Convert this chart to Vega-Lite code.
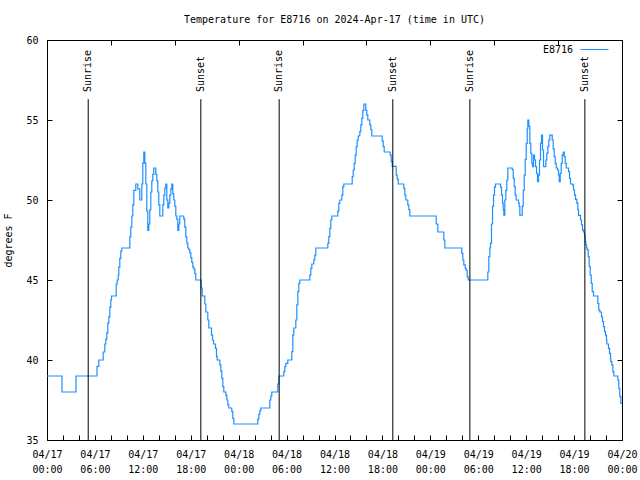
{
  "$schema": "https://vega.github.io/schema/vega-lite/v6.json",
  "width": 575,
  "height": 400,
  "autosize": {"type": "none"},
  "padding": {"left": 47, "top": 40, "right": 18, "bottom": 40},
  "background": "white",
  "title": {"text": "Temperature for E8716 on 2024-Apr-17 (time in UTC)", "font": "DejaVu Sans Mono", "fontSize": 10, "fontWeight": "normal", "color": "black", "anchor": "middle", "offset": 10},
  "config": {
    "view": {"stroke": "black", "strokeWidth": 1},
    "axis": {"domain": false, "grid": false, "tickColor": "black", "tickSize": -5, "tickWidth": 1, "labelFont": "DejaVu Sans Mono", "labelFontSize": 10, "labelColor": "black", "titleFont": "DejaVu Sans Mono", "titleFontSize": 10, "titleFontWeight": "normal", "titleColor": "black"},
    "legend": {"orient": "none", "legendX": 533, "legendY": -5, "symbolType": "stroke", "symbolSize": 784, "symbolStrokeWidth": 1, "labelFont": "DejaVu Sans Mono", "labelFontSize": 10, "labelColor": "black", "labelAlign": "right", "labelOffset": -36, "padding": 0}
  },
  "layer": [
    {
      "data": {"values": [
        {"t":0,"v":39},{"t":1.878,"v":38},{"t":3.631,"v":39},{"t":6.261,"v":39.6},{"t":6.486,"v":40},{"t":7.037,"v":40.5},{"t":7.238,"v":41},{"t":7.363,"v":41.3},{"t":7.488,"v":41.7},{"t":7.613,"v":42.3},{"t":7.739,"v":42.7},{"t":7.864,"v":43.3},{"t":7.989,"v":43.75},{"t":8.077,"v":44},{"t":8.665,"v":44.75},{"t":8.79,"v":45},{"t":8.916,"v":45.3},{"t":8.991,"v":45.8},{"t":9.116,"v":46.35},{"t":9.241,"v":46.8},{"t":9.366,"v":47},{"t":10.368,"v":47.7},{"t":10.493,"v":48.3},{"t":10.619,"v":49},{"t":10.744,"v":49.7},{"t":10.869,"v":50.6},{"t":11.12,"v":51},{"t":11.37,"v":50.7},{"t":11.62,"v":50},{"t":11.871,"v":51},{"t":11.996,"v":52.3},{"t":12.121,"v":53},{"t":12.247,"v":52.3},{"t":12.372,"v":51},{"t":12.497,"v":49.3},{"t":12.622,"v":48.1},{"t":12.747,"v":48.5},{"t":12.873,"v":49.4},{"t":12.998,"v":50.5},{"t":13.123,"v":51.2},{"t":13.248,"v":51.6},{"t":13.373,"v":52},{"t":13.624,"v":51.6},{"t":13.749,"v":51.2},{"t":13.874,"v":50.5},{"t":14.0,"v":49.7},{"t":14.125,"v":49},{"t":14.5,"v":49.7},{"t":14.626,"v":50.3},{"t":14.751,"v":50.75},{"t":14.876,"v":51},{"t":15.001,"v":50},{"t":15.127,"v":49.5},{"t":15.252,"v":49.8},{"t":15.377,"v":50.3},{"t":15.502,"v":50.7},{"t":15.627,"v":51},{"t":15.753,"v":50.4},{"t":15.878,"v":50},{"t":16.003,"v":49.6},{"t":16.128,"v":49},{"t":16.254,"v":48.8},{"t":16.379,"v":48.1},{"t":16.504,"v":48.5},{"t":16.629,"v":49},{"t":17.13,"v":48.8},{"t":17.255,"v":48.3},{"t":17.38,"v":47.7},{"t":17.506,"v":47.3},{"t":17.631,"v":47},{"t":17.756,"v":46.9},{"t":17.881,"v":46.7},{"t":18.007,"v":46.4},{"t":18.132,"v":46.1},{"t":18.257,"v":45.8},{"t":18.382,"v":45.7},{"t":18.507,"v":45.4},{"t":18.633,"v":45},{"t":19.309,"v":44.5},{"t":19.434,"v":44},{"t":19.76,"v":43.5},{"t":19.885,"v":43},{"t":20.135,"v":42.5},{"t":20.261,"v":42},{"t":20.599,"v":41.56},{"t":20.724,"v":41.25},{"t":20.849,"v":41},{"t":21.1,"v":40.73},{"t":21.225,"v":40.21},{"t":21.312,"v":40},{"t":21.638,"v":39.7},{"t":21.763,"v":39.3},{"t":21.888,"v":38.85},{"t":22.014,"v":38.33},{"t":22.139,"v":38},{"t":22.389,"v":37.8},{"t":22.515,"v":37.5},{"t":22.64,"v":37.2},{"t":22.765,"v":37},{"t":23.141,"v":36.77},{"t":23.266,"v":36.35},{"t":23.391,"v":36},{"t":26.396,"v":36.3},{"t":26.522,"v":36.6},{"t":26.647,"v":36.83},{"t":26.772,"v":37},{"t":27.899,"v":37.5},{"t":28.024,"v":37.75},{"t":28.149,"v":38},{"t":28.901,"v":38.5},{"t":29.026,"v":39},{"t":29.652,"v":39.27},{"t":29.777,"v":39.58},{"t":29.903,"v":39.79},{"t":30.153,"v":40},{"t":30.654,"v":40.52},{"t":30.779,"v":41.56},{"t":30.904,"v":42},{"t":31.155,"v":42.5},{"t":31.28,"v":43.44},{"t":31.405,"v":44.27},{"t":31.53,"v":44.79},{"t":31.656,"v":45},{"t":32.908,"v":45.31},{"t":33.033,"v":45.73},{"t":33.158,"v":46},{"t":33.409,"v":46.25},{"t":33.534,"v":46.56},{"t":33.659,"v":47},{"t":35.162,"v":47.29},{"t":35.287,"v":47.71},{"t":35.412,"v":48.23},{"t":35.537,"v":48.75},{"t":35.663,"v":49},{"t":36.414,"v":49.31},{"t":36.539,"v":49.79},{"t":36.665,"v":50},{"t":36.915,"v":50.31},{"t":37.04,"v":50.83},{"t":37.166,"v":51},{"t":38.217,"v":51.46},{"t":38.343,"v":51.875},{"t":38.468,"v":52.29},{"t":38.593,"v":52.81},{"t":38.718,"v":53.33},{"t":38.843,"v":53.75},{"t":38.969,"v":54},{"t":39.169,"v":54.27},{"t":39.294,"v":54.69},{"t":39.419,"v":55.1},{"t":39.545,"v":55.6},{"t":39.67,"v":56},{"t":39.92,"v":55.6},{"t":40.045,"v":55.3},{"t":40.171,"v":55},{"t":40.421,"v":54.7},{"t":40.546,"v":54.4},{"t":40.672,"v":54},{"t":41.974,"v":53.7},{"t":42.099,"v":53.33},{"t":42.224,"v":53},{"t":42.976,"v":52.8},{"t":43.101,"v":52.4},{"t":43.226,"v":52.1},{"t":43.727,"v":51.56},{"t":43.852,"v":51.3},{"t":43.978,"v":51},{"t":44.679,"v":50.73},{"t":44.804,"v":50.31},{"t":44.929,"v":50},{"t":45.18,"v":49.7},{"t":45.305,"v":49.4},{"t":45.43,"v":49},{"t":48.736,"v":48.5},{"t":48.936,"v":48},{"t":49.687,"v":47.5},{"t":49.813,"v":47},{"t":51.941,"v":46.67},{"t":52.066,"v":46.25},{"t":52.192,"v":45.94},{"t":52.367,"v":45.73},{"t":52.492,"v":45.6},{"t":52.617,"v":45.2},{"t":52.742,"v":45},{"t":55.197,"v":45.5},{"t":55.322,"v":46.46},{"t":55.447,"v":47},{"t":55.535,"v":47.3},{"t":55.66,"v":48.5},{"t":55.786,"v":49.6},{"t":55.911,"v":50.3},{"t":56.036,"v":50.8},{"t":56.161,"v":51},{"t":56.787,"v":50.8},{"t":56.913,"v":50.3},{"t":57.038,"v":49.8},{"t":57.126,"v":49.4},{"t":57.201,"v":49.06},{"t":57.326,"v":50},{"t":57.451,"v":50.6},{"t":57.576,"v":51.25},{"t":57.702,"v":52},{"t":58.253,"v":51.9},{"t":58.378,"v":51.35},{"t":58.503,"v":50.83},{"t":58.628,"v":50.31},{"t":58.754,"v":50},{"t":59.042,"v":49.8},{"t":59.129,"v":49.6},{"t":59.205,"v":49.06},{"t":59.505,"v":49.6},{"t":59.63,"v":50.6},{"t":59.756,"v":51.56},{"t":59.881,"v":52.54},{"t":60.006,"v":53.54},{"t":60.131,"v":54.48},{"t":60.207,"v":55},{"t":60.332,"v":54.6},{"t":60.457,"v":53.54},{"t":60.582,"v":52.92},{"t":60.707,"v":52.29},{"t":60.795,"v":52.08},{"t":60.92,"v":52.81},{"t":61.046,"v":52.5},{"t":61.171,"v":52.08},{"t":61.296,"v":51.67},{"t":61.421,"v":51.15},{"t":61.546,"v":51.56},{"t":61.672,"v":52.5},{"t":61.797,"v":53.54},{"t":61.922,"v":54.06},{"t":62.047,"v":53.125},{"t":62.173,"v":52.08},{"t":62.461,"v":52.5},{"t":62.586,"v":52.92},{"t":62.711,"v":53.33},{"t":62.836,"v":53.75},{"t":62.961,"v":54.06},{"t":63.262,"v":53.75},{"t":63.387,"v":53.2},{"t":63.512,"v":52.71},{"t":63.638,"v":52.29},{"t":63.763,"v":52},{"t":63.926,"v":51.875},{"t":64.051,"v":51.56},{"t":64.139,"v":51.15},{"t":64.264,"v":51.67},{"t":64.389,"v":52.29},{"t":64.514,"v":52.81},{"t":64.64,"v":53},{"t":64.765,"v":52.71},{"t":64.89,"v":52.29},{"t":65.015,"v":52},{"t":65.303,"v":51.77},{"t":65.428,"v":51.35},{"t":65.553,"v":51},{"t":65.804,"v":50.94},{"t":65.929,"v":50.625},{"t":66.054,"v":50.31},{"t":66.179,"v":50.04},{"t":66.342,"v":49.8},{"t":66.467,"v":49.4},{"t":66.555,"v":49.04},{"t":66.805,"v":48.75},{"t":66.93,"v":48.44},{"t":67.055,"v":48.12},{"t":67.181,"v":48},{"t":67.306,"v":47.8},{"t":67.394,"v":47.4},{"t":67.469,"v":47.2},{"t":67.556,"v":47},{"t":67.644,"v":46.9},{"t":67.769,"v":46.46},{"t":67.894,"v":45.83},{"t":68.02,"v":45.31},{"t":68.145,"v":44.79},{"t":68.27,"v":44.27},{"t":68.433,"v":44},{"t":68.971,"v":43.54},{"t":69.096,"v":43.12},{"t":69.222,"v":43},{"t":69.434,"v":42.7},{"t":69.56,"v":42.4},{"t":69.685,"v":42.08},{"t":69.81,"v":41.77},{"t":69.935,"v":41.56},{"t":70.061,"v":41.25},{"t":70.098,"v":41},{"t":70.311,"v":40.73},{"t":70.436,"v":40.42},{"t":70.561,"v":40.1},{"t":70.599,"v":39.9},{"t":70.724,"v":39.69},{"t":70.849,"v":39.27},{"t":70.974,"v":39},{"t":71.475,"v":38.75},{"t":71.6,"v":38.23},{"t":71.726,"v":37.71},{"t":71.851,"v":37.29},{"t":72,"v":37.29}
      ]},
      "mark": {"type": "line", "interpolate": "step-after", "strokeWidth": 1.2},
      "encoding": {
        "x": {"field": "t", "type": "quantitative", "scale": {"domain": [0, 72], "nice": false, "zero": false},
          "axis": {"orient": "bottom", "title": null, "values": [0,2,4,6,8,10,12,14,16,18,20,22,24,26,28,30,32,34,36,38,40,42,44,46,48,50,52,54,56,58,60,62,64,66,68,70,72],
            "labelExpr": "datum.value % 6 == 0 ? ['04/' + (17 + floor(datum.value / 24)), ((datum.value % 24) < 10 ? '0' : '') + (datum.value % 24) + ':00'] : ''",
            "labelPadding": 14, "labelLineHeight": 15, "labelBaseline": "top", "labelFlush": false, "labelOverlap": false}},
        "y": {"field": "v", "type": "quantitative", "scale": {"domain": [35, 60], "nice": false, "zero": false},
          "axis": {"orient": "left", "title": "degrees F", "values": [35, 40, 45, 50, 55, 60], "labelPadding": 14, "titlePadding": 12}},
        "color": {"datum": "E8716", "type": "nominal", "scale": {"range": ["#1e90ff"]}, "legend": {"title": null}}
      }
    },
    {
      "data": {"values": [
        {"t": 5.16, "label": "Sunrise"}, {"t": 19.26, "label": "Sunset"},
        {"t": 29.07, "label": "Sunrise"}, {"t": 43.3, "label": "Sunset"},
        {"t": 52.95, "label": "Sunrise"}, {"t": 67.35, "label": "Sunset"}
      ]},
      "layer": [
        {
          "mark": {"type": "rule", "color": "black", "strokeWidth": 1},
          "encoding": {
            "x": {"field": "t", "type": "quantitative", "axis": {"orient": "top", "title": null, "labels": false, "values": [0,2,4,6,8,10,12,14,16,18,20,22,24,26,28,30,32,34,36,38,40,42,44,46,48,50,52,54,56,58,60,62,64,66,68,70,72]}},
            "y": {"datum": 35, "type": "quantitative", "axis": {"orient": "right", "title": null, "labels": false, "values": [35, 40, 45, 50, 55, 60]}},
            "y2": {"datum": 56.3}
          }
        },
        {
          "mark": {"type": "text", "angle": 270, "align": "left", "baseline": "middle", "font": "DejaVu Sans Mono", "fontSize": 10, "color": "black"},
          "encoding": {
            "x": {"field": "t", "type": "quantitative"},
            "y": {"datum": 56.75, "type": "quantitative"},
            "text": {"field": "label"}
          }
        }
      ]
    }
  ],
  "resolve": {"axis": {"x": "independent", "y": "independent"}}
}
